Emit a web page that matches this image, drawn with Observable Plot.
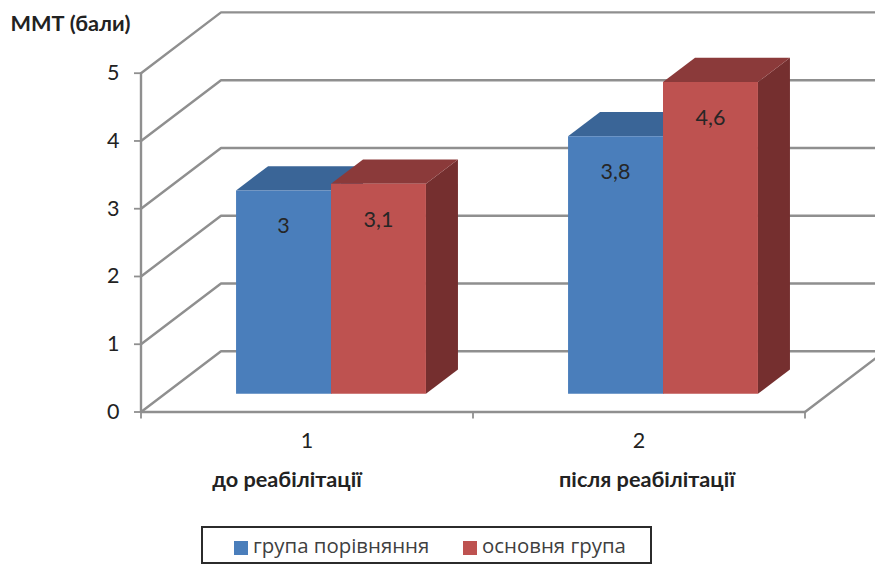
<!DOCTYPE html>
<html lang="uk">
<head>
<meta charset="utf-8">
<title>ММТ (бали)</title>
<script src="https://cdn.jsdelivr.net/npm/d3@7"></script>
<script src="https://cdn.jsdelivr.net/npm/@observablehq/plot@0.6"></script>
<style>
  html, body { margin: 0; padding: 0; background: #fff; overflow: hidden; }
  #chart { width: 875px; height: 564px; }
  .legend {
    box-sizing: border-box; width: 451px; height: 38px; margin: 26px 0 0 201px;
    border: 2px solid #2b2b2b; position: relative;
    font: 20.4px "Open Sans", sans-serif; color: #404040;
  }
  .legend i { position: absolute; top: 13px; width: 14px; height: 14px; }
  .legend span { position: absolute; top: 3px; white-space: nowrap; }
</style>
</head>
<body>
<div id="chart"></div>
<script>
const categories = [1, 2];
const categoryNames = ["до реабілітації", "після реабілітації"];
const seriesNames = ["група порівняння", "основня група"];
const comparisonGroup = [3, 3.8];
const mainGroup = [3.1, 4.6];
const valueLabels = [["3", "3,8"], ["3,1", "4,6"]];
const yTicks = [0, 1, 2, 3, 4, 5];

const faceColors = [
  {front: "#4a7ebb", top: "#3a6597", side: "#2f5480"},
  {front: "#be5250", top: "#8b3a3a", side: "#752f2f"}
];

// Oblique projection: moving through the chart's depth shifts a point right and up.
const depthX = 0.241, depthY = 0.897;
const barFront = 0.3, barBack = 0.7, barWidth = 0.286;
const project = (c, v, d) => ({x: c + d * depthX, y: v + d * depthY});

const gridLines = yTicks.flatMap((v) => [
  {...project(0.5, v, 0), v},
  {...project(0.5, v, 1), v},
  {...project(2.5, v, 1), v}
]);

const floorEdge = [project(2.5, 0, 0), project(2.5, 0, 1)];
const floorFront = [project(0.5, 0, 0), project(2.5, 0, 0)];

const faces = [];
const labels = [];
[comparisonGroup, mainGroup].forEach((values, s) => {
  values.forEach((v, i) => {
    const left = categories[i] + (s - 1) * barWidth;
    const right = left + barWidth;
    const colors = faceColors[s];
    const add = (name, fill, corners) => {
      corners.forEach((p) => faces.push({...p, id: `${s}-${i}-${name}`, fill}));
    };
    add("side", colors.side, [
      project(right, 0, barFront), project(right, 0, barBack),
      project(right, v, barBack), project(right, v, barFront)
    ]);
    add("top", colors.top, [
      project(left, v, barFront), project(right, v, barFront),
      project(right, v, barBack), project(left, v, barBack)
    ]);
    add("front", colors.front, [
      project(left, 0, barFront), project(right, 0, barFront),
      project(right, v, barFront), project(left, v, barFront)
    ]);
    labels.push({...project(left + barWidth / 2, v, barFront), text: valueLabels[s][i]});
  });
});

const gridColor = "#8f8f8f";
const bodyFont = "Lato, 'Open Sans', sans-serif";

const plot = Plot.plot({
  width: 875,
  height: 500,
  marginLeft: 141,
  marginRight: 70,
  marginTop: 0,
  marginBottom: 88.5,
  style: {fontFamily: bodyFont, background: "transparent"},
  x: {domain: [0.5, 2.5], range: [140.5, 804.5], axis: null},
  y: {domain: [0, 5], range: [411.5, 72.7], axis: null},
  color: {type: "identity"},
  marks: [
    Plot.line(gridLines, {x: "x", y: "y", z: "v", stroke: gridColor, strokeWidth: 2.4}),
    Plot.line(floorEdge, {x: "x", y: "y", stroke: gridColor, strokeWidth: 2.4}),
    Plot.line(floorFront, {x: "x", y: "y", stroke: gridColor, strokeWidth: 2.4}),
    Plot.ruleX([0.5], {y1: 0, y2: 5, stroke: gridColor, strokeWidth: 2.4}),
    Plot.axisY({
      ticks: yTicks, tickSize: 7, tickPadding: 15, stroke: gridColor, strokeWidth: 1.8,
      fill: "#222", fontSize: 21.5, label: null, tickFormat: String
    }),
    Plot.axisX({
      ticks: [0.5, 1.5, 2.5], tickSize: 7, tickFormat: () => "", stroke: gridColor,
      strokeWidth: 1.8, label: null
    }),
    Plot.axisX({
      ticks: categories, tickSize: 0, tickPadding: 21, fill: "#222", fontSize: 21.5,
      label: null, tickFormat: String
    }),
    Plot.line(faces, {x: "x", y: "y", z: "id", fill: "fill", stroke: "none"}),
    Plot.text(labels, {
      x: "x", y: "y", text: "text", dy: 36, fontSize: 21.5, fill: "#262626"
    }),
    Plot.text([categoryNames[0]], {
      x: () => categories[0], y: () => 0, dx: -20, dy: 68,
      fontSize: 21.7, fontWeight: "bold", fill: "#222"
    }),
    Plot.text([categoryNames[1]], {
      x: () => categories[1], y: () => 0, dx: 8, dy: 68,
      fontSize: 21.7, fontWeight: "bold", fill: "#222"
    }),
    Plot.text(["ММТ (бали)"], {
      frameAnchor: "top-left", dx: -131, dy: 15, textAnchor: "start",
      fontSize: 21.7, fontWeight: "bold", fill: "#222"
    })
  ]
});

const chart = document.getElementById("chart");
chart.appendChild(plot);

// Legend below the plot: one swatch and one name per series.
const legend = document.createElement("div");
legend.className = "legend";
const legendX = [[31, 50], [260, 279]];
seriesNames.forEach((name, s) => {
  const swatch = document.createElement("i");
  swatch.style.left = legendX[s][0] + "px";
  swatch.style.background = faceColors[s].front;
  const text = document.createElement("span");
  text.style.left = legendX[s][1] + "px";
  text.textContent = name;
  legend.append(swatch, text);
});
chart.appendChild(legend);
</script>
</body>
</html>
